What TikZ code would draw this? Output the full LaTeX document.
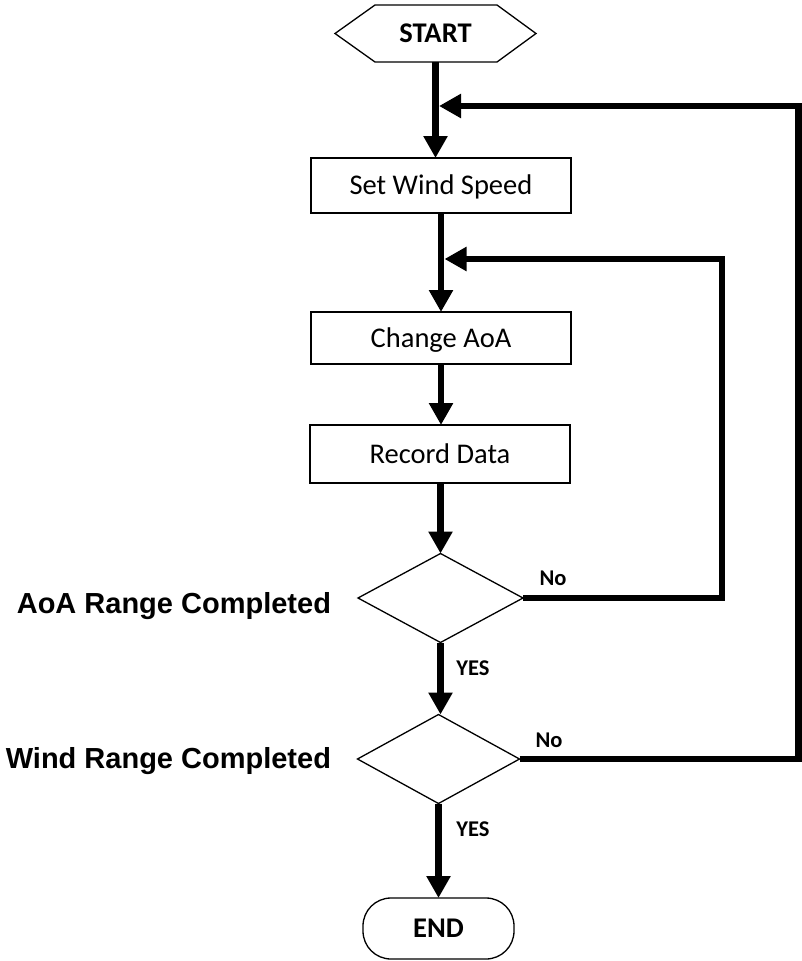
\documentclass[tikz,border=0pt]{standalone}
\usepackage{fontspec}
\setmainfont{Carlito}
\newfontfamily\sidefont{Liberation Sans}
\usetikzlibrary{shapes.geometric,arrows.meta,calc}

\begin{document}
\begin{tikzpicture}[x=1pt,y=-1pt,
  every node/.style={inner sep=0pt,outer sep=0pt},
  boxtext/.style={font=\fontsize{28.5}{30}\selectfont,text height=18.3pt,text depth=0pt},
  procbox/.style={boxtext,draw,line width=1.3pt,rectangle,minimum width=260pt},
  decision/.style={draw,diamond,line width=1.3pt},
  conn/.style={line width=6.5pt,line join=miter,-{Triangle[length=22pt,width=23pt]}},
  branchlbl/.style={font=\bfseries\fontsize{22.5}{24}\selectfont,text height=14.5pt,text depth=0pt},
  sidelbl/.style={font=\sidefont\bfseries\fontsize{29}{31}\selectfont,anchor=base east},
]
\useasboundingbox (0,0) rectangle (802,961);

% terminal: START (hexagon drawn around an empty-bordered node)
\node[boxtext,font=\bfseries\fontsize{28.5}{30}\selectfont,minimum width=201pt,minimum height=57pt] (start) at (435.5,33.5) {START};
\draw[line width=1.3pt,line join=miter] (start.west) -- ($(start.north west)+(40,0)$) -- ($(start.north east)+(-39,0)$)
  -- (start.east) -- ($(start.south east)+(-39,0)$) -- ($(start.south west)+(40,0)$) -- cycle;

% process steps
\node[procbox,minimum height=55pt] (sws) at (441,185.5) {Set Wind Speed};
\node[procbox,minimum height=52pt] (caoa) at (441,338) {Change AoA};
\node[procbox,minimum height=58pt] (rd) at (440,454) {Record Data};

% decisions
\node[decision,minimum width=165pt,minimum height=89pt] (d1) at (440.5,598) {};
\node[decision,minimum width=162pt,minimum height=89pt] (d2) at (438.5,759) {};

% terminal: END
\node[draw,line width=1.3pt,rounded corners=28pt,minimum width=151pt,minimum height=61pt,
      boxtext,font=\bfseries\fontsize{28.5}{30}\selectfont] (end) at (438.5,928.5) {END};

% decision captions
\node[sidelbl] (l1) at (331,613) {AoA Range Completed};
\node[sidelbl] (l2) at (331,768) {Wind Range Completed};

% loop junctions and corners
\coordinate (j1) at (439,106);
\coordinate (j2) at (444.5,259);
\coordinate (k1) at (722,259);
\coordinate (k2) at (798.5,106);

% main flow
\draw[conn] (start.south) -- (start.south |- sws.north);
\draw[conn] (sws.south) -- (caoa.north);
\draw[conn] (caoa.south) -- (caoa.south |- rd.north);
\draw[conn] (rd.south -| d1.north) -- (d1.north);
\draw[conn] (d1.south) -- (d1.south |- d2.north);
\draw[conn] (d2.south) -- (end.north);

% feedback loops
\draw[conn] (d1.east) -- (d1.east -| k1) -- (k1) -- (j2);
\draw[conn] (d2.east) -- (d2.east -| k2) -- (k2) -- (j1);

% branch labels
\node[branchlbl] (no1) at (553,578) {No};
\node[branchlbl] (no2) at (549,740) {No};
\node[branchlbl] (yes1) at (473,668) {YES};
\node[branchlbl] (yes2) at (473,829) {YES};
\end{tikzpicture}
\end{document}
